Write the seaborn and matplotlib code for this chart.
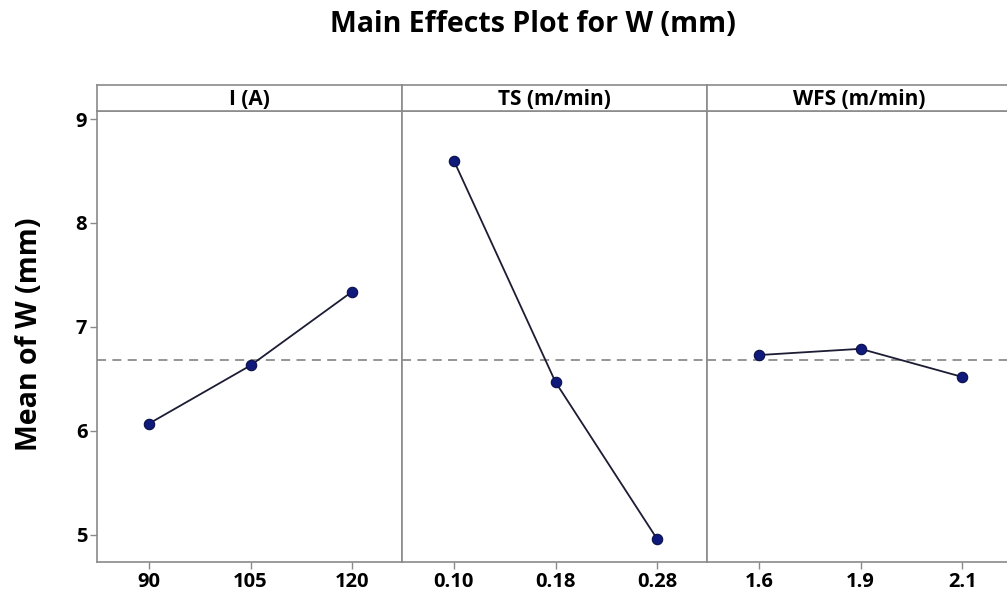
import numpy as np
import pandas as pd
import matplotlib
matplotlib.use("Agg")
import matplotlib.pyplot as plt
import seaborn as sns

# factor names and their levels (tick labels)
factors = ["I (A)", "TS (m/min)", "WFS (m/min)"]
i_levels = ["90", "105", "120"]
ts_levels = ["0.10", "0.18", "0.28"]
wfs_levels = ["1.6", "1.9", "2.1"]

# mean of W (mm) at each level
i_means = [6.07, 6.63, 7.34]
ts_means = [8.60, 6.47, 4.96]
wfs_means = [6.73, 6.79, 6.52]

y_ticks = [5, 6, 7, 8, 9]

LINE_COL = "#1c1c34"
MARK_COL = "#0f1a7a"
FRAME_COL = "#8a8a8a"


def build_frame():
    rows = []
    for name, levels, means in zip(factors,
                                   [i_levels, ts_levels, wfs_levels],
                                   [i_means, ts_means, wfs_means]):
        for pos, (lev, m) in enumerate(zip(levels, means)):
            rows.append({"factor": name, "level": lev, "pos": pos, "mean": m})
    return pd.DataFrame(rows)


def plot_main_effects(df):
    sns.set_style("white")
    plt.rcParams["font.family"] = ["Open Sans", "DejaVu Sans"]
    plt.rcParams["text.color"] = "black"
    plt.rcParams["xtick.labelcolor"] = "black"
    plt.rcParams["ytick.labelcolor"] = "black"

    fig = plt.figure(figsize=(10.07, 5.94), dpi=100)
    W, H = 1007.0, 594.0
    grand_mean = df["mean"].mean()

    panel_w = 305 / W
    for k, name in enumerate(factors):
        sub = df[df["factor"] == name]
        left = (97 + 305 * k) / W
        ax = fig.add_axes([left, 1 - 562 / H, panel_w, (562 - 111) / H])
        ax.axhline(grand_mean, color="#8c8c8c", lw=1.3, ls=(0, (5, 3.5)), zorder=1)
        sns.lineplot(data=sub, x="pos", y="mean", ax=ax, color=LINE_COL, lw=1.3,
                     marker="o", markersize=7.5, markerfacecolor=MARK_COL,
                     markeredgecolor="#0a0f4a", markeredgewidth=0.8, zorder=3)
        ax.set_xlim(-0.51, 2.49)
        ax.set_ylim(4.74, 9.077)
        ax.set_xticks(sub["pos"])
        ax.set_xticklabels(sub["level"], fontsize=14.5, fontweight="bold")
        ax.set_xlabel("")
        ax.set_ylabel("")
        ax.tick_params(axis="x", bottom=True, length=5, width=1, color=FRAME_COL,
                       labelcolor="black", pad=2)
        if k == 0:
            ax.set_yticks(y_ticks)
            ax.set_yticklabels([str(t) for t in y_ticks], fontsize=14.5, fontweight="bold")
            ax.tick_params(axis="y", left=True, length=5, width=1, color=FRAME_COL,
                           labelcolor="black", pad=2)
        else:
            ax.set_yticks([])
        for sp in ax.spines.values():
            sp.set_color(FRAME_COL)
            sp.set_linewidth(1.2)

        # strip header
        sx = fig.add_axes([left, 1 - 111 / H, panel_w, 26 / H])
        sx.set_xticks([])
        sx.set_yticks([])
        for sp in sx.spines.values():
            sp.set_color(FRAME_COL)
            sp.set_linewidth(1.2)
        sx.text(0.5, 0.45, name, ha="center", va="center", fontsize=15,
                fontweight="bold", color="black", transform=sx.transAxes)

    fig.text(533 / W, 1 - 32 / H, "Main Effects Plot for W (mm)", ha="center",
             va="baseline", fontsize=20.5, fontweight="bold", color="black")
    fig.text(30 / W, 1 - 334 / H, "Mean of W (mm)", rotation=90, ha="center",
             va="center", fontsize=20.5, fontweight="bold", color="black")
    fig.savefig("out.png", dpi=100)


def main():
    df = build_frame()
    plot_main_effects(df)


if __name__ == "__main__":
    main()
